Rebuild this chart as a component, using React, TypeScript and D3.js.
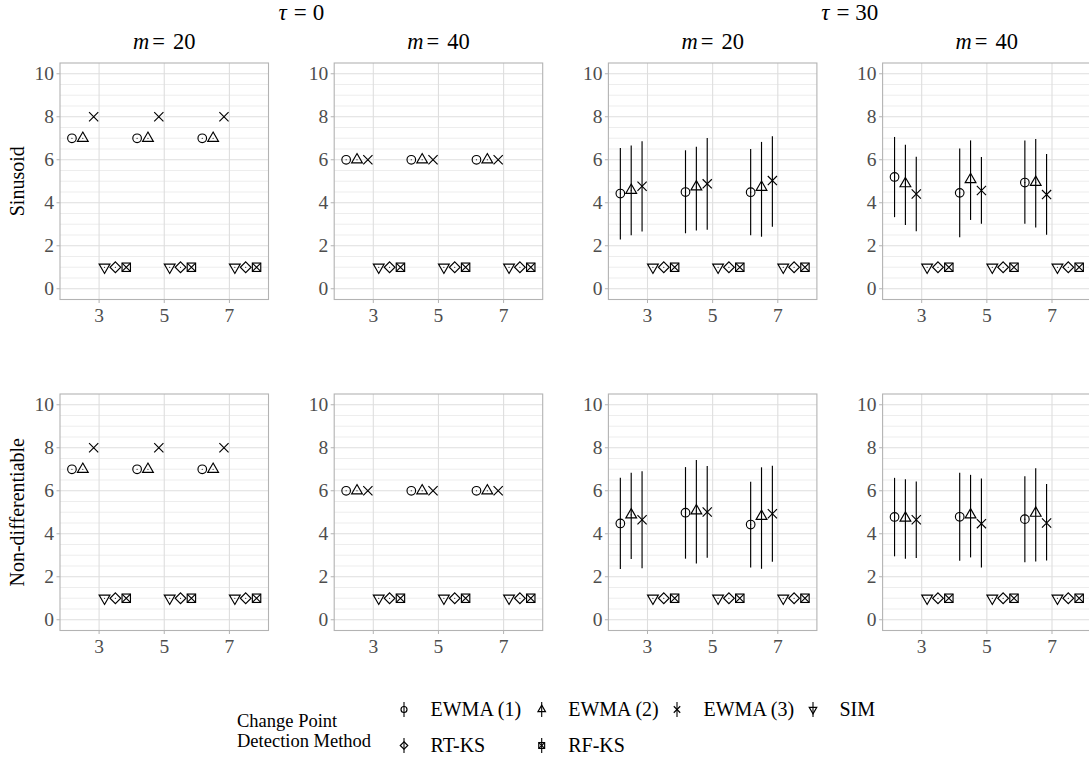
import React from "react";
import * as d3 from "d3";

// ---------- data ----------
const groups = [3, 5, 7];
const methods = ["EWMA (1)", "EWMA (2)", "EWMA (3)", "SIM", "RT-KS", "RF-KS"];
const shapeOf = ["circle", "triangle", "cross", "triangleDown", "diamond", "squareCross"];
const taus = ["0", "30"];
const ms = ["20", "40"];
const functionTypes = ["Sinusoid", "Non-differentiable"];
const yTicks = [0, 2, 4, 6, 8, 10];
const legendTitle = ["Change Point", "Detection Method"];

// mean change-point detection delay, per group (3,5,7) and per method
const sinTau0M20 = [[7, 7, 8, 1, 1, 1], [7, 7, 8, 1, 1, 1], [7, 7, 8, 1, 1, 1]];
const sinTau0M40 = [[6, 6, 6, 1, 1, 1], [6, 6, 6, 1, 1, 1], [6, 6, 6, 1, 1, 1]];
const nondTau0M20 = [[7, 7, 8, 1, 1, 1], [7, 7, 8, 1, 1, 1], [7, 7, 8, 1, 1, 1]];
const nondTau0M40 = [[6, 6, 6, 1, 1, 1], [6, 6, 6, 1, 1, 1], [6, 6, 6, 1, 1, 1]];

const sinTau30M20 = [[4.43, 4.58, 4.77, 1, 1, 1], [4.5, 4.74, 4.88, 1, 1, 1], [4.49, 4.72, 5.03, 1, 1, 1]];
const sinTau30M20Lo = [[2.29, 2.49, 2.66, 1, 1, 1], [2.58, 2.71, 2.75, 1, 1, 1], [2.49, 2.42, 2.88, 1, 1, 1]];
const sinTau30M20Hi = [[6.55, 6.66, 6.86, 1, 1, 1], [6.44, 6.6, 7.01, 1, 1, 1], [6.5, 6.83, 7.09, 1, 1, 1]];

const sinTau30M40 = [[5.2, 4.89, 4.41, 1, 1, 1], [4.46, 5.08, 4.57, 1, 1, 1], [4.94, 4.95, 4.38, 1, 1, 1]];
const sinTau30M40Lo = [[3.33, 2.97, 2.68, 1, 1, 1], [2.4, 3.2, 3.02, 1, 1, 1], [3.02, 2.85, 2.51, 1, 1, 1]];
const sinTau30M40Hi = [[7.06, 6.7, 6.14, 1, 1, 1], [6.52, 6.9, 6.13, 1, 1, 1], [6.89, 6.97, 6.27, 1, 1, 1]];

const nondTau30M20 = [[4.48, 4.88, 4.65, 1, 1, 1], [4.98, 5.07, 5.01, 1, 1, 1], [4.43, 4.81, 4.93, 1, 1, 1]];
const nondTau30M20Lo = [[2.36, 2.82, 2.4, 1, 1, 1], [2.84, 2.62, 2.88, 1, 1, 1], [2.43, 2.37, 2.7, 1, 1, 1]];
const nondTau30M20Hi = [[6.6, 6.84, 6.91, 1, 1, 1], [7.1, 7.43, 7.15, 1, 1, 1], [6.42, 7.09, 7.16, 1, 1, 1]];

const nondTau30M40 = [[4.78, 4.73, 4.65, 1, 1, 1], [4.79, 4.88, 4.47, 1, 1, 1], [4.68, 4.96, 4.5, 1, 1, 1]];
const nondTau30M40Lo = [[2.95, 2.84, 2.87, 1, 1, 1], [2.74, 2.9, 2.43, 1, 1, 1], [2.68, 2.71, 2.76, 1, 1, 1]];
const nondTau30M40Hi = [[6.6, 6.53, 6.43, 1, 1, 1], [6.84, 6.74, 6.57, 1, 1, 1], [6.68, 7.05, 6.31, 1, 1, 1]];

// panels: row = function type, col = tau x m
const panelTable = [
  [
    { mean: sinTau0M20, lo: sinTau0M20, hi: sinTau0M20 },
    { mean: sinTau0M40, lo: sinTau0M40, hi: sinTau0M40 },
    { mean: sinTau30M20, lo: sinTau30M20Lo, hi: sinTau30M20Hi },
    { mean: sinTau30M40, lo: sinTau30M40Lo, hi: sinTau30M40Hi },
  ],
  [
    { mean: nondTau0M20, lo: nondTau0M20, hi: nondTau0M20 },
    { mean: nondTau0M40, lo: nondTau0M40, hi: nondTau0M40 },
    { mean: nondTau30M20, lo: nondTau30M20Lo, hi: nondTau30M20Hi },
    { mean: nondTau30M40, lo: nondTau30M40Lo, hi: nondTau30M40Hi },
  ],
];

// ---------- layout ----------
const W = 1089;
const H = 762;
const colLeft = [60, 334.2, 608.4, 882.6];
const panelW = 208.5;
const rowTop = [63, 394];
const panelH = 236.5;
const FONT = "'Liberation Serif', 'Times New Roman', serif";
const dodge = 2;

function Marker({ shape, s = 1 }: { shape: string; s?: number }) {
  const sw = 1.15;
  const common = { fill: "none", stroke: "#000", strokeWidth: sw } as any;
  if (shape === "circle") return <circle r={4.3 * s} {...common} />;
  if (shape === "triangle") {
    const p = [[0, -6.2 * s], [5.4 * s, 3.1 * s], [-5.4 * s, 3.1 * s]];
    return <polygon points={p.map((q) => q.join(",")).join(" ")} {...common} />;
  }
  if (shape === "triangleDown") {
    const p = [[0, 6.2 * s], [5.4 * s, -3.1 * s], [-5.4 * s, -3.1 * s]];
    return <polygon points={p.map((q) => q.join(",")).join(" ")} {...common} />;
  }
  if (shape === "diamond") {
    const r = 5.4 * s;
    return <polygon points={`0,${-r} ${r},0 0,${r} ${-r},0`} {...common} />;
  }
  if (shape === "squareCross") {
    const r = 4.2 * s;
    return (
      <g>
        <rect x={-r} y={-r} width={2 * r} height={2 * r} {...common} />
        <path d={`M${-r},${-r}L${r},${r}M${-r},${r}L${r},${-r}`} {...common} />
      </g>
    );
  }
  // cross
  const r = 4.6 * s;
  return <path d={`M${-r},${-r}L${r},${r}M${-r},${r}L${r},${-r}`} {...common} />;
}

function Panel({ row, col }: { row: number; col: number }) {
  const x0 = colLeft[col];
  const y0 = rowTop[row];
  const x = d3.scaleLinear().domain([1.8, 8.2]).range([x0, x0 + panelW]);
  const y = d3.scaleLinear().domain([-0.5, 10.5]).range([y0 + panelH, y0]);
  const d = panelTable[row][col];
  const gridY = d3.range(0, 10.01, 0.5);
  const off = (i: number) => (i - (methods.length - 1) / 2) * (dodge / methods.length);
  return (
    <g>
      {gridY.map((v) => (
        <line
          key={"gy" + v}
          x1={x0}
          x2={x0 + panelW}
          y1={y(v)}
          y2={y(v)}
          stroke={v % 2 === 0 ? "#dedede" : "#ebebeb"}
          strokeWidth={v % 2 === 0 ? 1.1 : 0.9}
        />
      ))}
      {groups.map((g) => (
        <line key={"gx" + g} x1={x(g)} x2={x(g)} y1={y0} y2={y0 + panelH} stroke="#dedede" strokeWidth={1.1} />
      ))}
      <rect x={x0} y={y0} width={panelW} height={panelH} fill="none" stroke="#b3b3b3" strokeWidth={1.1} />
      {yTicks.map((t) => (
        <g key={"yt" + t}>
          <line x1={x0 - 3.5} x2={x0} y1={y(t)} y2={y(t)} stroke="#b3b3b3" strokeWidth={1} />
          <text x={x0 - 6} y={y(t)} dy="0.34em" textAnchor="end" fontSize={19.5} fill="#4d4d4d" fontFamily={FONT}>
            {t}
          </text>
        </g>
      ))}
      {groups.map((g) => (
        <g key={"xt" + g}>
          <line x1={x(g)} x2={x(g)} y1={y0 + panelH} y2={y0 + panelH + 3.5} stroke="#b3b3b3" strokeWidth={1} />
          <text x={x(g)} y={y0 + panelH + 22.5} textAnchor="middle" fontSize={19.5} fill="#4d4d4d" fontFamily={FONT}>
            {g}
          </text>
        </g>
      ))}
      {groups.map((g, gi) =>
        methods.map((m, mi) => {
          const cx = x(g + off(mi));
          const lo = d.lo[gi][mi];
          const hi = d.hi[gi][mi];
          return (
            <g key={"p" + gi + "-" + mi}>
              {hi > lo && (
                <line x1={cx} x2={cx} y1={y(lo)} y2={y(hi)} stroke="#000" strokeWidth={1.15} />
              )}
              <g transform={`translate(${cx},${y(d.mean[gi][mi])})`}>
                <Marker shape={shapeOf[mi]} />
                <circle r={0.6} fill="#000" />
              </g>
            </g>
          );
        })
      )}
    </g>
  );
}

export default function App() {
  const legendCols = [404, 541.7, 677, 813];
  const legendRows = [709.5, 745.5];
  return (
    <div style={{ position: "fixed", left: 0, top: 0 }}>
      <svg width={W} height={H} style={{ display: "block", background: "#fff", fontFamily: FONT }}>
        {/* tau headers */}
        {taus.map((t, ti) => {
          const cx = (colLeft[ti * 2] + colLeft[ti * 2 + 1] + panelW) / 2;
          return (
            <text key={"tau" + t} x={cx} y={20} textAnchor="middle" fontSize={23} fontFamily={FONT} fill="#000">
              <tspan fontStyle="italic">τ</tspan>
              <tspan dx={7}>=</tspan>
              <tspan dx={6}>{t}</tspan>
            </text>
          );
        })}
        {/* m headers */}
        {colLeft.map((cl, ci) => (
          <text key={"m" + ci} x={cl + panelW / 2} y={48.5} textAnchor="middle" fontSize={22.5} fontFamily={FONT} fill="#000">
            <tspan fontStyle="italic">m</tspan>
            <tspan dx={3}>=</tspan>
            <tspan dx={8}>{ms[ci % 2]}</tspan>
          </text>
        ))}
        {/* row labels */}
        {functionTypes.map((f, ri) => (
          <text
            key={f}
            transform={`translate(24,${rowTop[ri] + panelH / 2}) rotate(-90)`}
            textAnchor="middle"
            fontSize={20}
            fontFamily={FONT}
            fill="#000"
          >
            {f}
          </text>
        ))}
        {[0, 1].map((r) => [0, 1, 2, 3].map((c) => <Panel key={r + "-" + c} row={r} col={c} />))}
        {/* legend */}
        {legendTitle.map((line, li) => (
          <text key={"lt" + li} x={237} y={727 + li * 19.5} fontSize={18.5} fontFamily={FONT} fill="#000">
            {line}
          </text>
        ))}
        {methods.map((m, i) => {
          const r = Math.floor(i / 4);
          const c = i % 4;
          const cx = legendCols[c];
          const cy = legendRows[r];
          return (
            <g key={"lg" + m}>
              <line x1={cx} x2={cx} y1={cy - 7.5} y2={cy + 7.5} stroke="#000" strokeWidth={1.1} />
              <g transform={`translate(${cx},${cy})`}>
                <Marker shape={shapeOf[i]} s={0.7} />
              </g>
              <text x={cx + 26.5} y={cy + 6} fontSize={20} fontFamily={FONT} fill="#000">
                {m}
              </text>
            </g>
          );
        })}
      </svg>
    </div>
  );
}
